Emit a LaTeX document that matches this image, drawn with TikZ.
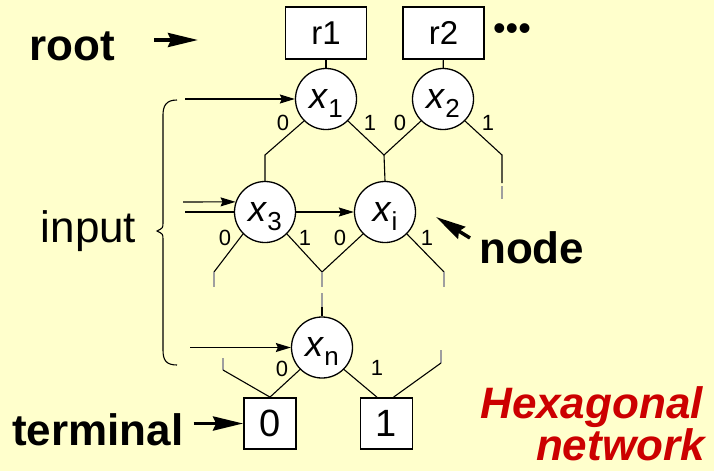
\documentclass[tikz,border=0pt]{standalone}
\usepackage{fontspec}
\setmainfont{Liberation Sans}
\usetikzlibrary{arrows.meta}

\definecolor{bgyellow}{RGB}{255,255,204}
\definecolor{titlered}{RGB}{204,0,0}

\newcommand{\xvar}[1]{\textit{x}\raisebox{-9pt}{\fontsize{26}{26}\selectfont #1}}

\tikzset{
  var/.style={circle, draw, fill=white, line width=1.3pt, minimum size=61pt, inner sep=0pt,
    text height=18pt, text depth=0pt, font=\fontsize{36}{36}\selectfont},
  rootbox/.style={rectangle, draw, fill=white, line width=1.8pt, minimum width=81pt,
    minimum height=52pt, inner sep=0pt, font=\fontsize{33}{33}\selectfont},
  sink/.style={rectangle, draw, fill=white, line width=1.8pt, minimum width=52pt,
    minimum height=51pt, inner sep=0pt, font=\fontsize{38}{38}\selectfont},
  wire/.style={line width=1.1pt},
  stub/.style={line width=1.3pt, gray!75},
  edgelbl/.style={inner sep=0pt, font=\fontsize{22}{22}\selectfont},
  tag/.style={inner sep=0pt, font=\bfseries\fontsize{44}{44}\selectfont},
  feed/.style={line width=1.1pt, -{Stealth[length=15pt,width=9pt,inset=2pt]}},
  bigpointer/.style={line width=3.5pt, -{Stealth[length=30pt,width=14pt,inset=3pt]}},
}

\begin{document}
\begin{tikzpicture}[x=1pt,y=-1pt]
  \fill[bgyellow] (0,0) rectangle (714,471);
  \useasboundingbox (0,0) rectangle (714,471);

  % roots and terminals
  \node[rootbox] (r1) at (326,33) {r1};
  \node[rootbox] (r2) at (443.5,33) {r2};
  \node[inner sep=0pt, font=\fontsize{36}{36}\selectfont] (more) at (512,32) {•••};
  \node[sink] (t0) at (270,423.5) {0};
  \node[sink] (t1) at (386.5,423.5) {1};

  % variable nodes
  \node[var] (x1) at (326,99) {\xvar{1}};
  \node[var] (x2) at (443,99) {\xvar{2}};
  \node[var] (x3) at (265,212) {\xvar{3}};
  \node[var] (xi) at (385,212) {\xvar{i}};
  \node[var] (xn) at (322,347.5) {\xvar{n}};

  % branch points
  \coordinate (b1) at (265,155);
  \coordinate (b2) at (384,155);
  \coordinate (b3) at (502,155);
  \coordinate (b4) at (214,272);
  \coordinate (b5) at (322,272);
  \coordinate (b6) at (444,272);
  \coordinate (b7) at (223,370);
  \coordinate (b8) at (441,363);

  \draw[wire] (r1) -- (x1);
  \draw[wire] (r2) -- (x2);
  \draw[wire] (x1.225) -- (b1) -- (x3.north);
  \draw[wire] (x1.315) -- (b2) -- (xi.north);
  \draw[wire] (x2.225) -- (b2);
  \draw[wire] (x2.315) -- (b3) -- (502,183);
  \draw[stub] (502,186) -- (502,199);
  \draw[wire] (x3.225) -- (b4);
  \draw[stub] (b4) -- (214,287);
  \draw[wire] (x3.315) -- (b5);
  \draw[wire] (xi.225) -- (b5);
  \draw[stub] (b5) -- (322,287);
  \draw[stub] (322,293) -- (322,307);
  \draw[wire] (322,307) -- (xn.north);
  \draw[wire] (xi.315) -- (b6);
  \draw[stub] (b6) -- (444,287);
  \draw[stub] (223,358) -- (b7);
  \draw[wire] (b7) -- (t0.north);
  \draw[wire] (xn.225) -- (t0.north);
  \draw[wire] (xn.315) -- (t1.110);
  \draw[stub] (441,350) -- (b8);
  \draw[wire] (b8) -- (t1.75);

  % edge labels
  \node[edgelbl] at (283,123) {0};
  \node[edgelbl] at (370,123) {1};
  \node[edgelbl] at (400,123) {0};
  \node[edgelbl] at (488,123) {1};
  \node[edgelbl] at (225,238) {0};
  \node[edgelbl] at (305,238) {1};
  \node[edgelbl] at (340,238) {0};
  \node[edgelbl] at (427,238) {1};
  \node[edgelbl] at (282,369) {0};
  \node[edgelbl] at (377,368) {1};

  % inputs
  \coordinate (in1) at (185,99);
  \coordinate (in3a) at (183,202);
  \coordinate (in3b) at (185,212);
  \coordinate (inn) at (190,347.5);
  \draw[feed] (in1) -- (x1.west);
  \draw[feed] (in3a) -- (x3.161);
  \draw[wire] (in3b) -- (x3.west);
  \draw[feed] (x3) -- (xi);
  \draw[feed] (inn) -- (xn.west);
  \draw[wire] (177,100) .. controls (166,100) and (163,106) .. (163,115) -- (163,222)
    .. controls (163,228) .. (157,231) .. controls (163,234) .. (163,240) -- (163,350)
    .. controls (163,360) and (166,365) .. (177,365);
  \node[inner sep=0pt, font=\fontsize{44}{44}\selectfont, anchor=base] (inputtag) at (88.5,242) {input};

  % tags
  \node[tag, anchor=base west] (roottag) at (29.5,60) {root};
  \coordinate (rootend) at (198,40);
  \draw[bigpointer] (154,40) -- (rootend);
  \node[tag, anchor=base west] (termtag) at (12,445) {terminal};
  \draw[bigpointer] (termtag.east |- t0.west) ++(10,0) -- (t0.west);
  \node[tag, anchor=base west] (nodetag) at (479,263) {node};
  \coordinate (nodetip) at (436,217);
  \draw[bigpointer] (470,238) -- (nodetip);

  % title
  \node[inner sep=0pt, anchor=base east, text=titlered,
    font=\bfseries\itshape\fontsize{44}{44}\selectfont] (hex) at (703,418) {Hexagonal};
  \node[inner sep=0pt, anchor=base east, text=titlered,
    font=\bfseries\itshape\fontsize{44}{44}\selectfont] (net) at (705,460) {network};
\end{tikzpicture}
\end{document}
